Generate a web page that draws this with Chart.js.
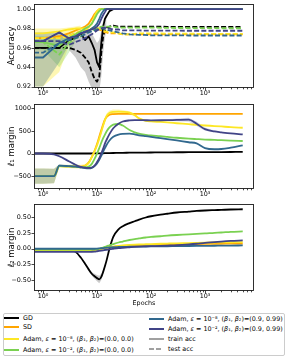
<!DOCTYPE html>
<html><head><meta charset="utf-8">
<script src="https://cdn.jsdelivr.net/npm/chart.js@4"></script>
<style>
html,body{margin:0;padding:0;background:#fff;width:288px;height:359px;overflow:hidden;font-family:"DejaVu Sans";}
canvas{position:absolute;left:0;}
#legend{position:absolute;left:3px;top:312.5px;width:281.5px;height:43.5px;border:1px solid #cccccc;border-radius:2px;box-sizing:border-box;}
.it{position:absolute;height:10px;line-height:10px;font-size:6.4px;white-space:nowrap;color:#000;}
.sw{position:absolute;left:0;top:4.1px;width:15px;height:1.8px;}
.tx{position:absolute;left:19px;top:0;}
</style></head>
<body>
<canvas id="c1" width="288" height="100" style="top:0px"></canvas>
<canvas id="c2" width="288" height="100" style="top:100px"></canvas>
<canvas id="c3" width="288" height="108" style="top:200px"></canvas>
<div id="legend"></div>
<div class="it" style="left:4px;top:313.3px"><span class="sw" style="background:#000000"></span><span class="tx">GD</span></div>
<div class="it" style="left:4px;top:322.3px"><span class="sw" style="background:#ffa500"></span><span class="tx">SD</span></div>
<div class="it" style="left:4px;top:334.3px"><span class="sw" style="background:#fde725"></span><span class="tx">Adam, <i>ε</i> = 10⁻⁸, (<i>β</i>₁, <i>β</i>₂)=(0.0, 0.0)</span></div>
<div class="it" style="left:4px;top:345px"><span class="sw" style="background:#7ad151"></span><span class="tx">Adam, <i>ε</i> = 10⁻², (<i>β</i>₁, <i>β</i>₂)=(0.0, 0.0)</span></div>
<div class="it" style="left:149px;top:314px"><span class="sw" style="background:#31688e"></span><span class="tx">Adam, <i>ε</i> = 10⁻⁸, (<i>β</i>₁, <i>β</i>₂)=(0.9, 0.99)</span></div>
<div class="it" style="left:149px;top:324.3px"><span class="sw" style="background:#414487"></span><span class="tx">Adam, <i>ε</i> = 10⁻², (<i>β</i>₁, <i>β</i>₂)=(0.9, 0.99)</span></div>
<div class="it" style="left:149px;top:334.3px"><span class="sw" style="background:#a0a0a0"></span><span class="tx">train acc</span></div>
<div class="it" style="left:149px;top:344.3px"><span class="sw" style="background:repeating-linear-gradient(to right,#a0a0a0 0 5px,transparent 5px 7.5px)"></span><span class="tx">test acc</span></div>
<script>
// ---------- data ----------
const seriesNames = ['GD','SD','Adam ε=1e-8 β=(0,0)','Adam ε=1e-2 β=(0,0)','Adam ε=1e-8 β=(0.9,0.99)','Adam ε=1e-2 β=(0.9,0.99)'];
const seriesColors = ['#000000','#ffa500','#fde725','#7ad151','#31688e','#414487'];

const xMajorTicks = [1,10,100,1000];
const xMajorLabels = ['10⁰','10¹','10²','10³'];

const accTicks = [0.92,0.94,0.96,0.98,1.00];
const accTickLabels = ['0.92','0.94','0.96','0.98','1.00'];
const l1Ticks = [-500,0,500,1000];
const l1TickLabels = ['−500','0','500','1000'];
const l2Ticks = [-0.5,-0.25,0,0.25,0.5];
const l2TickLabels = ['−0.50','−0.25','0.00','0.25','0.50'];

const accEpochs = [0.5,1,2,3,4,5,6,7,8,9,10,11,12,13,14,15,17,20,25,30,40,60,100,200,500,1000,2000,5000];
const accTrainGD = [0.96,0.96,0.96,0.968,0.97,0.975,0.968,0.972,0.965,0.958,0.945,0.94,0.965,0.982,0.99,0.993,0.998,1,1,1,1,1,1,1,1,1,1,1];
const accTestGD  = [0.96,0.96,0.96,0.96,0.958,0.955,0.95,0.945,0.935,0.928,0.925,0.93,0.955,0.972,0.978,0.981,0.982,0.983,0.982,0.982,0.982,0.982,0.982,0.9818,0.9816,0.9816,0.9816,0.9816];
const accTrainSD = [0.97,0.97,0.972,0.975,0.978,0.98,0.982,0.985,0.99,0.995,0.998,1,1,1,1,1,1,1,1,1,1,1,1,1,1,1,1,1];
const accTestSD  = [0.97,0.97,0.97,0.972,0.975,0.977,0.978,0.979,0.98,0.98,0.98,0.979,0.978,0.977,0.976,0.976,0.975,0.975,0.975,0.974,0.974,0.974,0.974,0.974,0.974,0.974,0.974,0.974];
const accTrainY  = [0.975,0.975,0.977,0.979,0.98,0.98,0.98,0.981,0.985,0.993,0.998,1,1,1,1,1,1,1,1,1,1,1,1,1,1,1,1,1];
const accTestY   = [0.97,0.97,0.97,0.972,0.975,0.977,0.978,0.979,0.98,0.981,0.981,0.98,0.979,0.978,0.977,0.977,0.976,0.976,0.975,0.974,0.974,0.975,0.975,0.9748,0.9746,0.9745,0.9745,0.9744];
const accTrainG  = [0.966,0.966,0.962,0.97,0.974,0.977,0.98,0.982,0.985,0.99,0.995,0.998,1,1,1,1,1,1,1,1,1,1,1,1,1,1,1,1];
const accTestG   = [0.966,0.966,0.953,0.965,0.97,0.972,0.975,0.977,0.978,0.979,0.98,0.981,0.982,0.982,0.982,0.982,0.982,0.982,0.981,0.981,0.981,0.981,0.981,0.9806,0.9805,0.9804,0.9803,0.9803];
const accTrainT  = [0.95,0.95,0.965,0.97,0.972,0.975,0.977,0.978,0.98,0.982,0.985,0.99,0.995,0.998,1,1,1,1,1,1,1,1,1,1,1,1,1,1];
const accTestT   = [0.955,0.955,0.965,0.968,0.97,0.972,0.974,0.976,0.977,0.978,0.979,0.98,0.98,0.98,0.98,0.979,0.978,0.977,0.976,0.975,0.974,0.9735,0.973,0.973,0.9728,0.9728,0.9728,0.9728];
const accTrainP  = [0.967,0.967,0.976,0.97,0.972,0.975,0.976,0.978,0.979,0.98,0.982,0.985,0.99,0.994,0.997,1,1,1,1,1,1,1,1,1,1,1,1,1];
const accTestP   = [0.967,0.967,0.967,0.963,0.966,0.968,0.97,0.972,0.974,0.976,0.978,0.979,0.98,0.981,0.981,0.981,0.98,0.979,0.979,0.978,0.978,0.978,0.9778,0.9778,0.9777,0.9777,0.9777,0.9777];
// shaded spread (lower / upper) on the accuracy panel
const accBandGDLo = [null,null,null,0.958,0.95,0.94,0.935,0.925,0.918,0.915,0.915,0.915,0.93,0.955,0.97,0.978,null,null,null,null,null,null,null,null,null,null,null,null];
const accBandGDHi = [null,null,null,0.962,0.972,0.977,0.975,0.978,0.975,0.97,0.965,0.968,0.978,0.988,0.992,0.995,null,null,null,null,null,null,null,null,null,null,null,null];
const accBandYLo  = [0.92,0.92,0.935,0.962,0.97,0.975,null,null,null,null,null,null,null,null,null,null,null,null,null,null,null,null,null,null,null,null,null,null];
const accBandYHi  = [0.98,0.98,0.98,0.981,0.982,0.983,null,null,null,null,null,null,null,null,null,null,null,null,null,null,null,null,null,null,null,null,null,null];
const accBandGLo  = [0.958,0.958,0.94,0.955,0.966,null,null,null,null,null,null,null,null,null,null,null,null,null,null,null,null,null,null,null,null,null,null,null];
const accBandGHi  = [0.972,0.972,0.97,0.975,0.976,null,null,null,null,null,null,null,null,null,null,null,null,null,null,null,null,null,null,null,null,null,null,null];
const accBandTLo  = [0.92,0.92,0.945,0.963,null,null,null,null,null,null,null,null,null,null,null,null,null,null,null,null,null,null,null,null,null,null,null,null];
const accBandTHi  = [0.976,0.976,0.975,0.972,null,null,null,null,null,null,null,null,null,null,null,null,null,null,null,null,null,null,null,null,null,null,null,null];

const marginEpochs = [0.5,1,1.6,2,3,4,5,6,7,8,9,10,11,12,13,14,15,17,20,25,30,40,50,60,80,100,150,200,300,500,700,1000,1500,2000,3000,5000];
const l1GD = [0,0,0,0,0,0,0,0,0,1,2,3,4,5,6,7,8,10,12,14,16,18,20,21,22,23,25,26,28,29,30,31,32,33,34,35];
const l1SD = [-500,-500,-500,-280,-285,-290,-290,-270,-200,-80,60,210,370,520,650,750,810,860,875,880,880,880,880,880,880,880,880,880,880,880,880,880,880,880,880,880];
const l1Y  = [-500,-500,-500,-280,-285,-290,-295,-270,-210,-80,50,180,330,480,620,740,830,900,925,930,925,905,850,780,725,712,700,690,672,650,635,622,610,600,585,572];
const l1G  = [-500,-500,-500,-280,-285,-290,-300,-305,-290,-230,-120,0,120,240,340,420,490,580,640,655,620,520,470,440,415,400,385,370,350,330,320,310,302,295,287,278];
const l1T  = [-500,-500,-500,-270,-280,-290,-310,-325,-330,-320,-280,-220,-140,-50,40,120,190,290,370,420,435,440,425,405,385,370,340,320,290,250,225,120,95,100,130,180];
const l1P  = [0,0,-20,-60,-170,-250,-295,-315,-320,-310,-270,-190,-100,0,110,220,300,430,560,660,710,735,740,740,738,737,738,740,745,750,660,540,490,470,445,425];
const l1StdY = [170,170,160,30,35,40,45,40,40,35,30,30,35,45,55,60,60,55,50,45,40,35,30,20,10,null,null,null,null,null,null,null,null,null,null,null];
const l1StdT = [170,170,160,30,10,null,null,null,null,null,null,null,null,null,null,null,null,null,null,null,null,null,null,null,null,null,null,null,null,null,null,null,null,null,null,null];
const l1StdP = [null,null,null,null,null,null,null,null,null,null,null,null,null,null,null,null,null,null,null,null,null,null,null,null,null,null,10,20,30,45,50,35,20,10,null,null];

const l2GD = [-0.005,-0.005,-0.008,-0.01,-0.02,-0.05,-0.14,-0.24,-0.33,-0.40,-0.44,-0.47,-0.49,-0.45,-0.37,-0.28,-0.19,0.0,0.19,0.31,0.36,0.41,0.44,0.465,0.50,0.52,0.545,0.56,0.58,0.595,0.605,0.612,0.618,0.622,0.628,0.632];
const l2SD = [-0.02,-0.02,-0.02,-0.02,-0.02,-0.02,-0.02,-0.02,-0.02,-0.02,-0.018,-0.012,-0.006,0.0,0.005,0.01,0.015,0.022,0.03,0.038,0.044,0.05,0.054,0.057,0.06,0.062,0.065,0.067,0.07,0.073,0.075,0.077,0.079,0.08,0.082,0.083];
const l2Y  = [-0.02,-0.02,-0.02,-0.02,-0.02,-0.02,-0.02,-0.02,-0.02,-0.02,-0.018,-0.012,-0.006,0.0,0.006,0.012,0.018,0.026,0.035,0.045,0.052,0.06,0.065,0.068,0.072,0.075,0.08,0.083,0.087,0.091,0.094,0.097,0.1,0.102,0.104,0.106];
const l2G  = [-0.015,-0.015,-0.015,-0.015,-0.015,-0.015,-0.015,-0.015,-0.015,-0.015,-0.012,-0.008,0.0,0.01,0.02,0.03,0.04,0.055,0.075,0.10,0.115,0.14,0.155,0.165,0.18,0.19,0.2,0.21,0.22,0.23,0.238,0.245,0.255,0.26,0.27,0.277];
const l2T  = [0,0,0,0,0,0,0,0,0,0,0,0.002,0.005,0.008,0.011,0.014,0.017,0.021,0.025,0.028,0.03,0.032,0.034,0.035,0.036,0.037,0.039,0.04,0.042,0.044,0.045,0.046,0.048,0.049,0.051,0.053];
const l2P  = [-0.05,-0.05,-0.05,-0.05,-0.05,-0.05,-0.05,-0.05,-0.05,-0.048,-0.045,-0.04,-0.035,-0.03,-0.025,-0.02,-0.016,-0.008,0.0,0.01,0.016,0.024,0.03,0.034,0.038,0.041,0.046,0.05,0.056,0.069,0.08,0.095,0.106,0.115,0.125,0.133];
const l2StdGD = [null,null,null,null,null,null,null,0.01,0.02,0.03,0.04,0.05,0.06,0.05,0.04,0.02,null,null,null,null,null,null,null,null,null,null,null,null,null,null,null,null,null,null,null,null];

// ---------- helpers ----------
const FONT = 'DejaVu Sans';
const LW = 1.8;
function pts(xs, ys){ const o=[]; xs.forEach((x,i)=>{ if(ys[i]!==null && ys[i]!==undefined) o.push({x:x,y:ys[i]}); }); return o; }
function lineDS(xs, ys, color, dashed, smooth){
  return {data:pts(xs,ys), borderColor:color, borderWidth:LW, borderDash:dashed?[5,2.2]:[], pointRadius:0,
          fill:false, tension:0, cubicInterpolationMode: smooth?'monotone':'default', borderCapStyle:'butt', borderJoinStyle:'round'};
}
function bandPair(xs, lo, hi, color){
  return [
    {data:pts(xs,lo), borderWidth:0, borderColor:'rgba(0,0,0,0)', pointRadius:0, fill:false},
    {data:pts(xs,hi), borderWidth:0, borderColor:'rgba(0,0,0,0)', pointRadius:0, fill:'-1', backgroundColor:color}
  ];
}
function stdBand(xs, ys, sd, color){
  const lo = ys.map((v,i)=> sd[i]==null?null:v-sd[i]);
  const hi = ys.map((v,i)=> sd[i]==null?null:v+sd[i]);
  return bandPair(xs, lo, hi, color);
}
function withOrder(list){ const n=list.length; list.forEach((d,i)=>{ d.order = n-i; }); return list; }

function xTickList(min,max){
  const t=[];
  for(let e=-1;e<=4;e++){ for(let k=1;k<=9;k++){ const v=k*Math.pow(10,e); if(v>=min&&v<=max) t.push({value:v, major:k===1}); } }
  return t;
}

const framePlugin = {
  id:'frame',
  afterDraw(chart){
    const {ctx, chartArea:a, scales} = chart;
    ctx.save();
    ctx.strokeStyle = '#1a1a1a'; ctx.lineWidth = 0.9;
    const L=Math.round(a.left)-0.5, T=Math.round(a.top)-0.5, R=Math.round(a.right)+0.5, B=Math.round(a.bottom)+0.5;
    ctx.strokeRect(L, T, R-L, B-T);
    ctx.lineWidth = 0.8;
    ctx.beginPath();
    scales.x.ticks.forEach(t=>{
      const px = Math.round(scales.x.getPixelForValue(t.value))+0.5;
      if(px < a.left-1 || px > a.right+1) return;
      const len = t.major?3:1.8;
      ctx.moveTo(px, B); ctx.lineTo(px, B+len);
    });
    scales.y.ticks.forEach(t=>{
      const py = Math.round(scales.y.getPixelForValue(t.value))+0.5;
      ctx.moveTo(L, py); ctx.lineTo(L-3, py);
    });
    ctx.stroke();
    ctx.restore();
  }
};

function options(p){
  return {
    responsive:false, animation:false, devicePixelRatio:1,
    layout:{padding:{left:0,right:35,top:p.padTop,bottom:0}},
    plugins:{legend:{display:false}, tooltip:{enabled:false}},
    scales:{
      x:{type:'logarithmic', min:0.71, max:7750, bounds:'data',
        afterBuildTicks:s=>{ s.ticks = xTickList(s.min, s.max); },
        afterFit:s=>{ s.height = p.xHeight; },
        ticks:{autoSkip:false, maxRotation:0, minRotation:0, padding:0, color:'#000',
          font:{family:FONT,size:6.4},
          callback:(v)=>{ const i = xMajorTicks.indexOf(v); return i>=0 ? xMajorLabels[i] : ''; }},
        grid:{display:true, drawOnChartArea:false, drawTicks:true, tickLength:2.5, color:'rgba(0,0,0,0)', tickColor:'rgba(0,0,0,0)'},
        border:{display:false},
        title: p.xTitle ? {display:true, text:p.xTitle, color:'#000', font:{family:FONT,size:6.4}, padding:{top:0,bottom:1}} : {display:false}
      },
      y:{type:'linear', min:p.yMin, max:p.yMax, bounds:'data',
        afterBuildTicks:s=>{ s.ticks = p.yTicks.map(v=>({value:v})); },
        afterFit:s=>{ s.width = 35; },
        ticks:{autoSkip:false, padding:1, color:'#000', font:{family:FONT,size:6.4},
          callback:(v,i)=> p.yLabels[i]},
        grid:{display:true, drawOnChartArea:false, drawTicks:true, tickLength:3, color:'rgba(0,0,0,0)', tickColor:'rgba(0,0,0,0)'},
        border:{display:false},
        title:{display:true, text:p.yTitle, color:'#000', font:{family:FONT,size:8.5}, padding:{top:7,bottom:0}}
      }
    }
  };
}

// ---------- panel 1: accuracy ----------
const accTrain = [accTrainGD,accTrainSD,accTrainY,accTrainG,accTrainT,accTrainP];
const accTest  = [accTestGD,accTestSD,accTestY,accTestG,accTestT,accTestP];
let ds1 = [];
ds1 = ds1.concat(bandPair(accEpochs, accBandYLo, accBandYHi, 'rgba(253,231,37,0.35)'));
ds1 = ds1.concat(bandPair(accEpochs, accBandGLo, accBandGHi, 'rgba(122,209,81,0.3)'));
ds1 = ds1.concat(bandPair(accEpochs, accBandTLo, accBandTHi, 'rgba(49,104,142,0.3)'));
ds1 = ds1.concat(bandPair(accEpochs, accBandGDLo, accBandGDHi, 'rgba(0,0,0,0.2)'));
for(let s=0;s<6;s++){
  ds1.push(lineDS(accEpochs, accTrain[s], seriesColors[s], false, false));
  ds1.push(lineDS(accEpochs, accTest[s], seriesColors[s], true, false));
}
new Chart(document.getElementById('c1'), {type:'line', data:{datasets:withOrder(ds1)},
  options:options({padTop:2, xHeight:13, yMin:0.9195, yMax:1.0045, yTicks:accTicks, yLabels:accTickLabels, yTitle:'Accuracy'}),
  plugins:[framePlugin]});

// ---------- panel 2: l1 margin ----------
const l1All = [l1GD,l1SD,l1Y,l1G,l1T,l1P];
let ds2 = [];
ds2 = ds2.concat(stdBand(marginEpochs, l1Y, l1StdY, 'rgba(253,231,37,0.35)'));
ds2 = ds2.concat(stdBand(marginEpochs, l1T, l1StdT, 'rgba(49,104,142,0.3)'));
ds2 = ds2.concat(stdBand(marginEpochs, l1P, l1StdP, 'rgba(65,68,135,0.2)'));
for(let s=0;s<6;s++) ds2.push(lineDS(marginEpochs, l1All[s], seriesColors[s], false, true));
new Chart(document.getElementById('c2'), {type:'line', data:{datasets:withOrder(ds2)},
  options:options({padTop:4, xHeight:12, yMin:-765, yMax:1080, yTicks:l1Ticks, yLabels:l1TickLabels, yTitle:'ℓ₁ margin'}),
  plugins:[framePlugin]});

// ---------- panel 3: l2 margin ----------
const l2All = [l2GD,l2SD,l2Y,l2G,l2T,l2P];
let ds3 = [];
ds3 = ds3.concat(stdBand(marginEpochs, l2GD, l2StdGD, 'rgba(0,0,0,0.2)'));
for(let s=0;s<6;s++) ds3.push(lineDS(marginEpochs, l2All[s], seriesColors[s], false, true));
new Chart(document.getElementById('c3'), {type:'line', data:{datasets:withOrder(ds3)},
  options:options({padTop:5, xHeight:18, yMin:-0.66, yMax:0.70, yTicks:l2Ticks, yLabels:l2TickLabels, yTitle:'ℓ₂ margin', xTitle:'Epochs'}),
  plugins:[framePlugin]});
</script>
</body></html>
